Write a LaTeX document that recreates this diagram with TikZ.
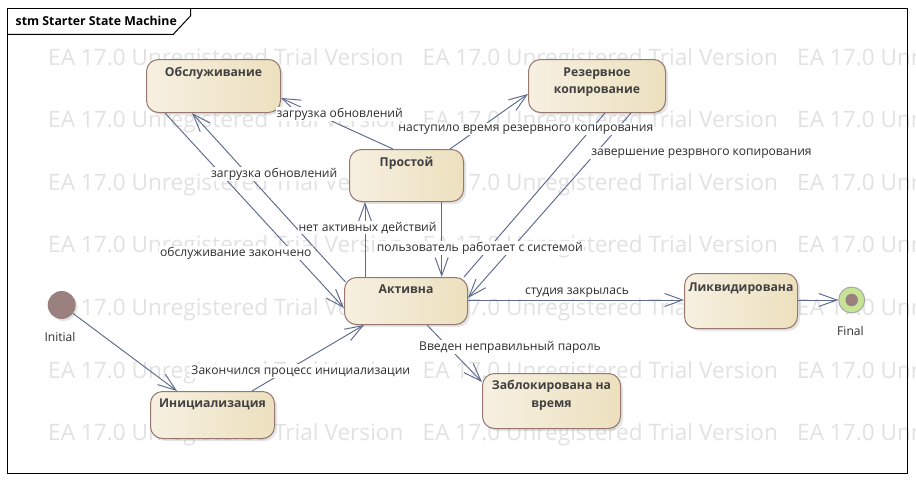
\documentclass[tikz,border=0pt]{standalone}
\usepackage{fontspec}
\setmainfont{Open Sans}
\newfontfamily\wmfont{Open Sans}
\usetikzlibrary{arrows.meta,calc,shadows}
\definecolor{edgec}{RGB}{92,106,140}
\definecolor{stborder}{RGB}{150,120,112}
\definecolor{stleft}{RGB}{247,240,225}
\definecolor{stright}{RGB}{236,224,190}
\definecolor{initc}{RGB}{155,128,128}
\definecolor{finring}{RGB}{200,226,150}
\definecolor{wmc}{RGB}{226,226,226}
\definecolor{txtc}{RGB}{45,45,45}
\definecolor{ttlc}{RGB}{64,64,64}
\begin{document}
\begin{tikzpicture}[x=1pt,y=-1pt,
 state/.style={draw=stborder, line width=1pt, rounded corners=12pt, left color=stleft, right color=stright, inner sep=0pt, anchor=north west, drop shadow={shadow xshift=2.5pt, shadow yshift=-2.5pt, opacity=0.2}},
 stitle/.style={font=\fontsize{12.2}{17.3}\selectfont\bfseries, text=ttlc, align=center, anchor=base, inner sep=0pt},
 lbl/.style={font=\fontsize{12.1}{14}\selectfont, text=txtc, fill=white, inner xsep=1pt, inner ysep=1pt, anchor=base},
 wm/.style={font=\wmfont\fontsize{22.6}{26}\selectfont, text=wmc, anchor=base west, inner sep=0pt},
 tr/.style={draw=edgec, line width=0.95pt, -{Straight Barb[length=18pt,width=13pt]}},
 tr0/.style={draw=edgec, line width=0.95pt},
]
\useasboundingbox (0,0) rectangle (916,482);
\fill[white] (0,0) rectangle (916,482);
% watermark
\begin{scope}
\clip (0,0) rectangle (916,482);
\foreach \r in {0,...,6}{
  \foreach \c [count=\ci] in {48,422.5,797}{
    \node[wm] (wm\r\ci) at (\c,65+62.6*\r) {EA 17.0 Unregistered Trial Version};
  }
}
\end{scope}
% frame
\draw[black, line width=1pt] (7.5,8) rectangle (907,473.5);
\draw[black, line width=1pt] (7.5,34.3) -- (173.3,34.3) -- (190.7,15.7) -- (190.7,8);
\node[font=\fontsize{12.3}{14}\selectfont\bfseries, anchor=base west, inner sep=0pt] (frametitle) at (15.5,25) {stm Starter State Machine};
% states
\node[state, minimum width=134pt, minimum height=53pt] (obs) at (146,59) {};
\node[stitle] (obs-t) at ($(obs.north)+(0,17)$) {Обслуживание};
\node[state, minimum width=137pt, minimum height=53pt] (bak) at (528,59) {};
\node[stitle, anchor=center] (bak-t) at ($(bak.north)+(0,23)$) {Резервное\\копирование};
\node[state, minimum width=114pt, minimum height=52pt] (idle) at (349,149) {};
\node[stitle] (idle-t) at ($(idle.north)+(0,17.3)$) {Простой};
\node[state, minimum width=123pt, minimum height=47pt] (act) at (344,277) {};
\node[stitle] (act-t) at ($(act.north)+(0,16.3)$) {Активна};
\node[state, minimum width=124pt, minimum height=47pt] (init) at (150,391) {};
\node[stitle] (init-t) at ($(init.north)+(0,16.3)$) {Инициализация};
\node[state, minimum width=138pt, minimum height=55pt] (lock) at (482,373) {};
\node[stitle, anchor=center] (lock-t) at ($(lock.north)+(0,22.4)$) {Заблокирована на\\время};
\node[state, minimum width=113pt, minimum height=55pt] (liq) at (684,273) {};
\node[stitle] (liq-t) at ($(liq.north)+(0,18.3)$) {Ликвидирована};
% pseudo states
\node[circle, fill=initc, minimum size=28pt, inner sep=0pt, drop shadow={shadow xshift=2pt, shadow yshift=-2pt, opacity=0.2}] (ini) at (61.7,305) {};
\node[font=\fontsize{12.1}{14}\selectfont, text=txtc, anchor=base, inner sep=0pt] (ini-l) at (60,341.5) {Initial};
\node[circle, draw=black!35, fill=finring, line width=1pt, minimum size=26pt, inner sep=0pt] (fin) at (851.7,300) {};
\node[circle, fill=initc, minimum size=12.5pt, inner sep=0pt] (fin-dot) at (fin) {};
\node[font=\fontsize{12.1}{14}\selectfont, text=txtc, anchor=base, inner sep=0pt] (fin-l) at (850.5,335) {Final};
% transitions
\draw[tr] (ini) -- ($(init.north west)+(27,0)$);
\draw[tr] ($(init.north west)+(102,0)$) -- ($(act.south west)+(20,0)$);
\draw[tr] ($(act.north east)+(0,23)$) -- ($(liq.north west)+(0,27)$);
\draw[tr] ($(liq.north east)+(0,27)$) -- (fin);
\draw[tr] ($(act.south west)+(83,0)$) -- ($(lock.north west)+(0,9)$);
\draw[tr] ($(idle.south west)+(92.7,0)$) -- ($(act.north west)+(97.7,0)$);
\draw[tr] ($(act.north west)+(21,0)$) -- ($(idle.south west)+(16,0)$);
\draw[tr] ($(idle.north west)+(101,0)$) -- ($(bak.north west)+(0,35)$);
\draw[tr] ($(idle.north west)+(44,0)$) -- ($(obs.north east)+(0,39)$);
\draw[tr] ($(obs.south west)+(19,0)$) -- ($(act.north west)+(0,31)$);
\draw[tr] ($(act.north west)+(1.5,5)$) -- ($(obs.south west)+(46,0)$);
\draw[tr0] ($(act.north east)+(-4,0)$) -- ($(bak.south west)+(77,0)$);
\draw[tr] ($(bak.south west)+(103,0)$) -- ($(act.north east)+(0,21)$);
% labels
\node[lbl] (l1) at (339.7,117) {загрузка обновлений};
\node[lbl] (l2) at (525.8,131) {наступило время резервного копирования};
\node[lbl] (l3) at (701.5,155) {завершение резрвного копирования};
\node[lbl] (l4) at (274.2,177) {загрузка обновлений};
\node[lbl] (l5) at (367.5,231) {нет активных действий};
\node[lbl] (l6) at (479.8,251.5) {пользователь работает с системой};
\node[lbl] (l7) at (235.8,256.5) {обслуживание закончено};
\node[lbl] (l8) at (577,294) {студия закрылась};
\node[lbl] (l9) at (510,350) {Введен неправильный пароль};
\node[lbl] (l10) at (300.8,374) {Закончился процесс инициализации};
\end{tikzpicture}
\end{document}
